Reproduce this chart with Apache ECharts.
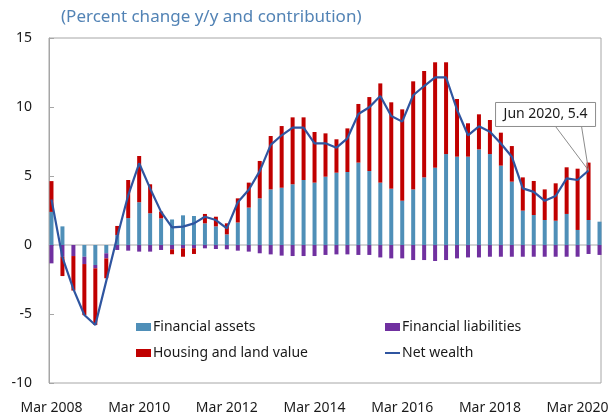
<!DOCTYPE html>
<html>
<head>
<meta charset="utf-8">
<script src="https://cdn.jsdelivr.net/npm/echarts@6/dist/echarts.min.js"></script>
<style>
  html, body { margin: 0; padding: 0; background: #fff; }
  #chart { width: 613px; height: 418px; }
</style>
</head>
<body>
<div id="chart"></div>
<script>
const quarters = [
  'Mar 2008', 'Jun 2008', 'Sep 2008', 'Dec 2008',
  'Mar 2009', 'Jun 2009', 'Sep 2009', 'Dec 2009',
  'Mar 2010', 'Jun 2010', 'Sep 2010', 'Dec 2010',
  'Mar 2011', 'Jun 2011', 'Sep 2011', 'Dec 2011',
  'Mar 2012', 'Jun 2012', 'Sep 2012', 'Dec 2012',
  'Mar 2013', 'Jun 2013', 'Sep 2013', 'Dec 2013',
  'Mar 2014', 'Jun 2014', 'Sep 2014', 'Dec 2014',
  'Mar 2015', 'Jun 2015', 'Sep 2015', 'Dec 2015',
  'Mar 2016', 'Jun 2016', 'Sep 2016', 'Dec 2016',
  'Mar 2017', 'Jun 2017', 'Sep 2017', 'Dec 2017',
  'Mar 2018', 'Jun 2018', 'Sep 2018', 'Dec 2018',
  'Mar 2019', 'Jun 2019', 'Sep 2019', 'Dec 2019',
  'Mar 2020', 'Jun 2020', 'Sep 2020'
]
const tickLabels = ['Mar 2008', 'Mar 2010', 'Mar 2012', 'Mar 2014', 'Mar 2016', 'Mar 2018', 'Mar 2020']

const financialAssets = [
  2.4, 1.35, 0, -0.85, -1.45, -0.6, 0.72, 1.95,
  3.1, 2.3, 1.93, 1.85, 2.15, 2.1, 1.57, 1.35,
  0.77, 1.63, 2.71, 3.38, 4.03, 4.15, 4.4, 4.71,
  4.52, 4.95, 5.24, 5.29, 5.97, 5.36, 4.52, 4.08,
  3.21, 4.03, 4.9, 5.6, 6.59, 6.4, 6.4, 6.93,
  6.59, 5.75, 4.59, 2.49, 2.17, 1.81, 1.76, 2.25,
  1.09, 1.81, 1.69
]
const financialLiabilities = [
  -1.33, -0.85, -0.8, -0.53, -0.24, -0.37, -0.36, -0.41,
  -0.48, -0.48, -0.36, -0.31, -0.24, -0.24, -0.24, -0.29,
  -0.31, -0.41, -0.48, -0.6, -0.68, -0.77, -0.8, -0.8,
  -0.8, -0.72, -0.68, -0.68, -0.72, -0.72, -0.9, -0.97,
  -0.97, -1.09, -1.09, -1.16, -1.09, -0.97, -0.9, -0.9,
  -0.85, -0.85, -0.85, -0.85, -0.85, -0.85, -0.85, -0.85,
  -0.85, -0.65, -0.72
]
const housingLand = [
  2.23, -1.4, -2.5, -3.7, -4.1, -1.44, 0.66, 2.76,
  3.35, 2.1, 0.49, -0.36, -0.61, -0.41, 0.68, 0.7,
  0.8, 1.75, 1.81, 2.71, 3.87, 4.47, 4.85, 4.54,
  3.67, 3.14, 2.42, 3.16, 4.25, 5.36, 7.19, 6.26,
  6.62, 7.83, 7.71, 7.64, 6.65, 4.18, 2.42, 2.54,
  2.47, 2.39, 2.58, 2.41, 2.47, 2.22, 2.71, 3.38,
  4.44, 4.16, null
]
const netWealth = [
  3.3, -0.9, -3.2, -5.07, -5.8, -2.6, 0.6, 3.6,
  5.92, 4.1, 2.4, 1.28, 1.33, 1.57, 2.05, 1.81,
  1.2, 3.1, 4.0, 5.35, 7.25, 7.95, 8.5, 8.5,
  7.37, 7.37, 7.05, 7.73, 9.49, 9.98, 10.8, 9.35,
  8.94, 10.85, 11.52, 12.15, 12.15, 9.8, 7.95, 8.6,
  8.21, 7.35, 6.4, 4.1, 3.85, 3.2, 3.55, 4.83,
  4.71, 5.4, null
]
const calloutAt = 'Jun 2020'

const FONT = '"Noto Sans", sans-serif'
const TEXT = '#1a1a1a'
const FRAME = '#a6a6a6'

const chart = echarts.init(document.getElementById('chart'))

const legendBase = {
  top: 315,
  orient: 'vertical',
  itemWidth: 15,
  itemHeight: 8,
  itemGap: 12,
  textStyle: { fontFamily: FONT, fontSize: 14, color: TEXT, padding: [0, 0, 0, -3] }
}

const option = {
  backgroundColor: '#FFFFFF',
  animation: false,
  title: {
    text: '(Percent change y/y and contribution)',
    left: 56,
    top: 4,
    textStyle: { fontFamily: FONT, fontWeight: 'normal', fontSize: 17, color: '#5283b5' }
  },
  legend: [
    Object.assign({}, legendBase, {
      left: 131,
      data: [{ name: 'Financial assets', icon: 'rect' }, { name: 'Housing and land value', icon: 'rect' }]
    }),
    Object.assign({}, legendBase, {
      left: 379,
      data: [
        { name: 'Financial liabilities', icon: 'rect' },
        { name: 'Net wealth', itemStyle: { color: 'rgba(0,0,0,0)', borderColor: 'rgba(0,0,0,0)', borderWidth: 0 } }
      ]
    })
  ],
  grid: [
    // data grid: bands line up with the quarterly bars
    { left: 46, right: 8, top: 38, bottom: 35 },
    // frame, y scale and zero line
    { left: 49, right: 12, top: 38, bottom: 35, show: true, borderColor: FRAME, borderWidth: 1 }
  ],
  xAxis: [{
    gridIndex: 0,
    type: 'category',
    data: quarters,
    boundaryGap: true,
    axisLine: { show: false },
    axisTick: { show: false },
    axisLabel: {
      interval: (i, v) => tickLabels.indexOf(v) > -1,
      margin: 18,
      fontFamily: FONT,
      fontSize: 14,
      color: TEXT
    }
  }, {
    gridIndex: 1,
    type: 'value',
    axisLine: { show: true, onZero: true, lineStyle: { color: '#c8c8c8', width: 1.5 } },
    axisTick: { show: false },
    axisLabel: { show: false },
    splitLine: { show: false }
  }],
  yAxis: [{
    gridIndex: 0,
    type: 'value',
    min: -10,
    max: 15,
    interval: 5,
    show: false
  }, {
    gridIndex: 1,
    type: 'value',
    min: -10,
    max: 15,
    interval: 5,
    axisLine: { show: true, onZero: false, lineStyle: { color: FRAME } },
    axisTick: { show: true, inside: true, length: 5, lineStyle: { color: FRAME } },
    splitLine: { show: false },
    axisLabel: { margin: 17, fontFamily: FONT, fontSize: 14, color: TEXT }
  }],
  series: [{
    name: 'Financial assets',
    type: 'bar',
    stack: 'contrib',
    barWidth: 4,
    z: 3,
    itemStyle: { color: '#4f8fb8' },
    data: financialAssets
  }, {
    name: 'Financial liabilities',
    type: 'bar',
    stack: 'contrib',
    barWidth: 4,
    z: 3,
    itemStyle: { color: '#7030a0' },
    data: financialLiabilities
  }, {
    name: 'Housing and land value',
    type: 'bar',
    stack: 'contrib',
    barWidth: 4,
    z: 3,
    itemStyle: { color: '#c00000' },
    data: housingLand
  }, {
    name: 'Net wealth',
    type: 'line',
    symbol: 'none',
    z: 5,
    lineStyle: { color: '#2f55a0', width: 2.2 },
    itemStyle: { color: '#2f55a0' },
    data: netWealth
  }]
}

chart.setOption(option)

// callout box anchored to the Jun 2020 net wealth point
const ci = quarters.indexOf(calloutAt)
const pt = chart.convertToPixel({ xAxisIndex: 0, yAxisIndex: 0 }, [ci, netWealth[ci]])
const boxW = 100, boxH = 24
const boxL = pt[0] - 93, boxT = pt[1] - 68
chart.setOption({
  graphic: [{
    type: 'polyline',
    z: 100,
    shape: { points: [[pt[0] - 33, boxT + boxH], [pt[0], pt[1]], [pt[0] - 7, boxT + boxH]] },
    style: { stroke: '#8c8c8c', lineWidth: 1, fill: null }
  }, {
    type: 'rect',
    z: 101,
    shape: { x: boxL, y: boxT, width: boxW, height: boxH },
    style: { fill: '#ffffff', stroke: '#8c8c8c', lineWidth: 1 }
  }, {
    type: 'text',
    z: 102,
    x: boxL + boxW / 2,
    y: boxT + boxH / 2,
    style: {
      text: calloutAt + ', ' + netWealth[ci],
      fontFamily: FONT,
      fontSize: 14,
      fill: TEXT,
      align: 'center',
      verticalAlign: 'middle'
    }
  }]
})
</script>
</body>
</html>
